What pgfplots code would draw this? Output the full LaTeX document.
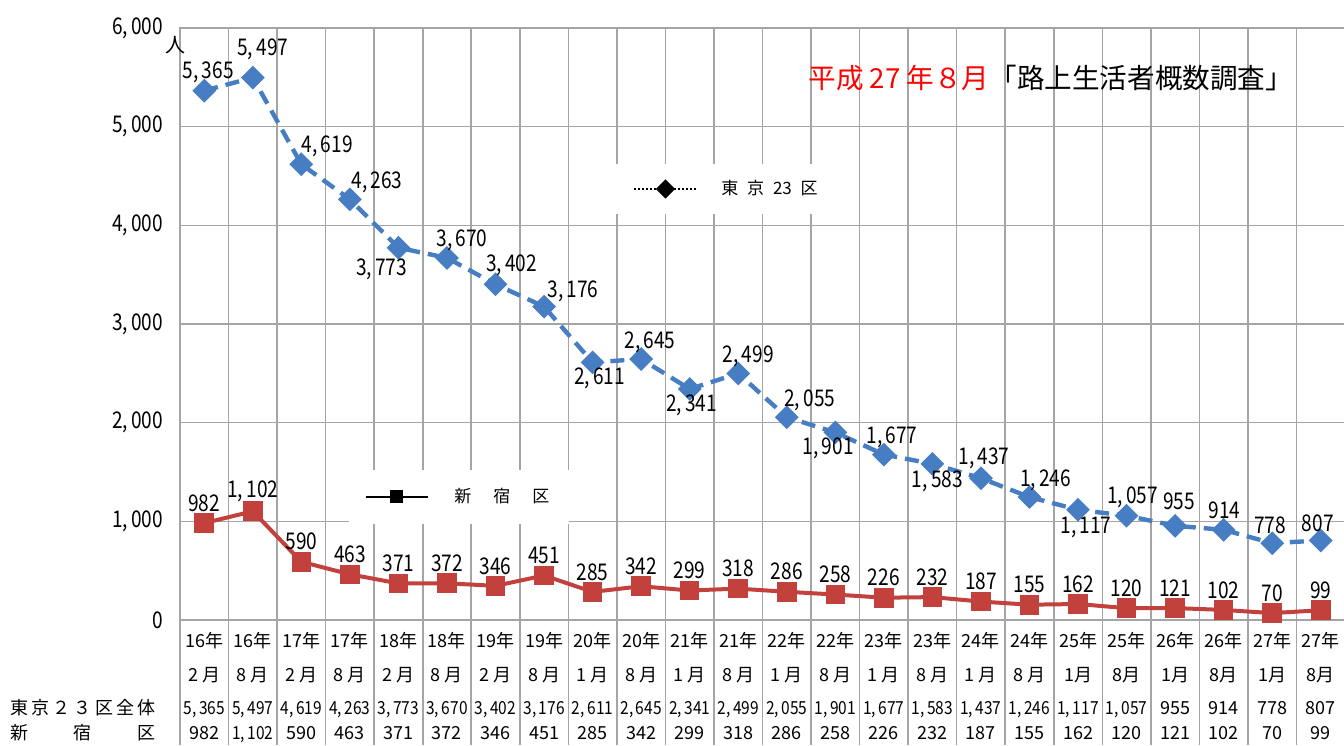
\documentclass[border=0pt]{standalone}
\usepackage{fontspec}
\setmainfont{Noto Sans CJK JP}
\usepackage{graphicx}
\usepackage{pgfplots}
\usepackage{pgfplotstable}
\pgfplotsset{compat=1.18}
\definecolor{tblue}{RGB}{70,125,195}
\definecolor{sred}{RGB}{195,65,60}
\definecolor{gridg}{RGB}{165,165,165}
\newcommand\nv[1]{\scalebox{0.86}[1]{#1}}
\newcommand\lab[1]{\scalebox{0.83}[1]{#1}}

\pgfplotstableread{
x y dx dy
0 5365 2 9.3
1 5497 5 14
2 4619 13 9
3 4263 13.5 8.7
4 3773 -8.5 -11
5 3670 7.5 9
6 3402 8 9.7
7 3176 14.5 7.8
8 2611 3.5 -8
9 2645 4.5 8.5
10 2341 1 -8
11 2499 5 8.7
12 2055 11.5 8.6
13 1901 -3.5 -7.8
14 1677 4 8.7
15 1583 2.5 -9
16 1437 1.5 10
17 1246 8 8.5
18 1117 4 -8.6
19 1057 3 9
20 955 2 12
21 914 0.5 10
22 778 -1 9
23 807 -1.5 8.7
}\tokyo

\pgfplotstableread{
x y
0 982
1 1102
2 590
3 463
4 371
5 372
6 346
7 451
8 285
9 342
10 299
11 318
12 286
13 258
14 226
15 232
16 187
17 155
18 162
19 120
20 121
21 102
22 70
23 99
}\shinjuku

\begin{document}
\begin{tikzpicture}[x=1pt,y=1pt]
\useasboundingbox (0,0) rectangle (672,372.5);
\begin{axis}[
  at={(90pt,62.5pt)}, anchor=south west,
  scale only axis, width=582.5pt, height=296pt,
  xmin=-0.5, xmax=23.5, ymin=0, ymax=6000,
  clip=false,
  axis line style={gridg, line width=0.8pt},
  major tick length=0pt, minor tick length=0pt,
  xtick={0,...,23},
  minor xtick={-0.5,0.5,...,23.5},
  xminorgrids=true, ymajorgrids=true,
  grid style={gridg, line width=0.8pt},
  minor grid style={gridg, line width=0.8pt},
  ytick={0,1000,...,6000},
  /pgf/number format/assume math mode=true,
  /pgf/number format/1000 sep={,\,},
  yticklabel={\lab{\pgfmathprintnumber{\tick}}},
  yticklabel style={font=\fontsize{11.5}{13}\selectfont, xshift=-5pt},
  xticklabel style={font=\fontsize{9}{11}\selectfont, align=center, anchor=north, inner sep=0pt, yshift=-6pt},
  xticklabels={
    {16年\\[6pt]2 月\\[5.5pt]\nv{5,\,365}\\[1.5pt]982},
    {16年\\[6pt]8 月\\[5.5pt]\nv{5,\,497}\\[1.5pt]\nv{1,\,102}},
    {17年\\[6pt]2 月\\[5.5pt]\nv{4,\,619}\\[1.5pt]590},
    {17年\\[6pt]8 月\\[5.5pt]\nv{4,\,263}\\[1.5pt]463},
    {18年\\[6pt]2 月\\[5.5pt]\nv{3,\,773}\\[1.5pt]371},
    {18年\\[6pt]8 月\\[5.5pt]\nv{3,\,670}\\[1.5pt]372},
    {19年\\[6pt]2 月\\[5.5pt]\nv{3,\,402}\\[1.5pt]346},
    {19年\\[6pt]8 月\\[5.5pt]\nv{3,\,176}\\[1.5pt]451},
    {20年\\[6pt]1 月\\[5.5pt]\nv{2,\,611}\\[1.5pt]285},
    {20年\\[6pt]8 月\\[5.5pt]\nv{2,\,645}\\[1.5pt]342},
    {21年\\[6pt]1 月\\[5.5pt]\nv{2,\,341}\\[1.5pt]299},
    {21年\\[6pt]8 月\\[5.5pt]\nv{2,\,499}\\[1.5pt]318},
    {22年\\[6pt]1 月\\[5.5pt]\nv{2,\,055}\\[1.5pt]286},
    {22年\\[6pt]8 月\\[5.5pt]\nv{1,\,901}\\[1.5pt]258},
    {23年\\[6pt]1 月\\[5.5pt]\nv{1,\,677}\\[1.5pt]226},
    {23年\\[6pt]8 月\\[5.5pt]\nv{1,\,583}\\[1.5pt]232},
    {24年\\[6pt]1 月\\[5.5pt]\nv{1,\,437}\\[1.5pt]187},
    {24年\\[6pt]8 月\\[5.5pt]\nv{1,\,246}\\[1.5pt]155},
    {25年\\[6pt]1月\\[5.5pt]\nv{1,\,117}\\[1.5pt]162},
    {25年\\[6pt]8月\\[5.5pt]\nv{1,\,057}\\[1.5pt]120},
    {26年\\[6pt]1月\\[5.5pt]955\\[1.5pt]121},
    {26年\\[6pt]8月\\[5.5pt]914\\[1.5pt]102},
    {27年\\[6pt]1月\\[5.5pt]778\\[1.5pt]70},
    {27年\\[6pt]8月\\[5.5pt]807\\[1.5pt]99}
  },
  legend style={at={(0.47,0.728)}, anchor=center, draw=none, fill=white,
    font=\fontsize{8.5}{10}\selectfont, inner xsep=14pt, inner ysep=6pt,
    /tikz/every odd column/.append style={column sep=10pt}},
  legend image code/.code={\draw[mark repeat=2,mark phase=2,#1] plot coordinates {(0pt,0pt) (15.5pt,0pt) (31pt,0pt)};},
]
\addlegendimage{black, densely dotted, line width=1pt, mark=square*, mark size=2.9pt, mark options={solid, rotate=45}}
\addlegendentry{東\hspace{2.5pt} 京\hspace{2.5pt} 23\hspace{2.5pt} 区}
\addplot[tblue, line width=2.2pt, dash pattern=on 7pt off 4pt,
  mark=square*, mark size=3.1pt, mark options={solid, rotate=45, fill=tblue, draw=tblue},
  forget plot,
  nodes near coords={\lab{\pgfmathprintnumber{\pgfplotspointmeta}}},
  visualization depends on={\thisrow{dx}\as\dx},
  visualization depends on={\thisrow{dy}\as\dy},
  every node near coord/.append style={font=\fontsize{11.5}{13}\selectfont, text=black, anchor=center, xshift=\dx pt, yshift=\dy pt}]
  table[x=x,y=y]{\tokyo};
\end{axis}

\begin{axis}[
  at={(90pt,62.5pt)}, anchor=south west,
  scale only axis, width=582.5pt, height=296pt,
  xmin=-0.5, xmax=23.5, ymin=0, ymax=6000,
  clip=false, hide axis,
  /pgf/number format/assume math mode=true,
  /pgf/number format/1000 sep={,\,},
  legend style={at={(0.2395,0.208)}, anchor=center, draw=none, fill=white,
    font=\fontsize{8.5}{10}\selectfont, inner xsep=8pt, inner ysep=7pt,
    /tikz/every odd column/.append style={column sep=11pt}},
  legend image code/.code={\draw[mark repeat=2,mark phase=2,#1] plot coordinates {(0pt,0pt) (15.5pt,0pt) (31pt,0pt)};},
]
\addlegendimage{black, line width=0.8pt, mark=square*, mark size=2.9pt}
\addlegendentry{新\hspace{11pt}宿\hspace{11pt}区}
\addplot[sred, line width=2pt, mark=square*, mark size=3.9pt, mark options={fill=sred, draw=sred},
  forget plot,
  nodes near coords={\lab{\pgfmathprintnumber{\pgfplotspointmeta}}},
  every node near coord/.append style={font=\fontsize{11.5}{13}\selectfont, text=black, anchor=center, yshift=10pt}]
  table[x=x,y=y]{\shinjuku};
\end{axis}

\foreach \k in {0,...,24} \draw[gridg, line width=0.8pt] ({90+\k*582.5/24},0) -- ({90+\k*582.5/24},62.5);
\node[anchor=west, inner sep=0pt, font=\fontsize{13.8}{16}\selectfont] at (404,333.5) {\textcolor{red}{平成 27 年８月}「路上生活者概数調査」};
\node[inner sep=0pt, font=\fontsize{10}{12}\selectfont] at (87.5,350) {人};
\node[anchor=west, inner sep=0pt, font=\fontsize{9}{11}\selectfont] at (5,18.5) {\makebox[72.5pt][s]{東\hfill 京\hfill ２\hfill ３\hfill 区\hfill 全\hfill 体}};
\node[anchor=west, inner sep=0pt, font=\fontsize{9}{11}\selectfont] at (5,6) {\makebox[72.5pt][s]{新\hfill 宿\hfill 区}};
\end{tikzpicture}
\end{document}
